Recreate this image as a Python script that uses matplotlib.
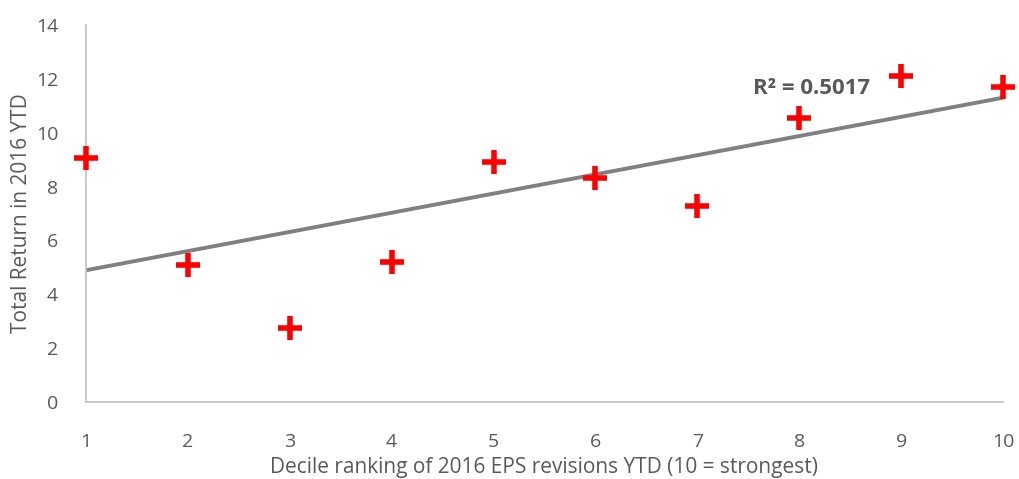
import numpy as np
import matplotlib.pyplot as plt

plt.rcParams['font.family'] = ['Open Sans', 'DejaVu Sans']

# decile ranking vs. total return
deciles = [1, 2, 3, 4, 5, 6, 7, 8, 9, 10]
returns = [9.06, 5.09, 2.75, 5.2, 8.91, 8.32, 7.28, 10.55, 12.1, 11.7]
r2_label = "R² = 0.5017"
y_ticks = [0, 2, 4, 6, 8, 10, 12, 14]

x = np.array(deciles)
y = np.array(returns)
slope, intercept = np.polyfit(x, y, 1)

fig = plt.figure(figsize=(10.19, 4.79), dpi=100)
ax = fig.add_axes([86 / 1019, 1 - 402 / 479, (1003 - 86) / 1019, (402 - 25) / 479])

ax.plot(x, slope * x + intercept, color='#808080', lw=2.8, zorder=2)
ax.plot(x, y, linestyle='none', marker='+', color='#FF0000',
        markersize=17, markeredgewidth=4, zorder=3, clip_on=False)

ax.text(7.55, 11.65, r2_label, fontsize=16, fontweight='bold',
        color='#595959', va='center', ha='left')

ax.set_xlim(1, 10)
ax.set_ylim(0, 14)
ax.set_xticks(deciles)
ax.set_yticks(y_ticks)
ax.tick_params(length=0, labelsize=14, colors='#595959')
ax.tick_params(axis='x', pad=22)
ax.tick_params(axis='y', pad=20)

for s in ['top', 'right']:
    ax.spines[s].set_visible(False)
for s in ['left', 'bottom']:
    ax.spines[s].set_color('#BFBFBF')
    ax.spines[s].set_linewidth(1.2)

ax.set_xlabel('Decile ranking of 2016 EPS revisions YTD (10 = strongest)',
              fontsize=15, color='#595959', labelpad=5)
ax.set_ylabel('Total Return in 2016 YTD', fontsize=15, color='#595959', labelpad=3)

fig.savefig('out.png', dpi=100)
